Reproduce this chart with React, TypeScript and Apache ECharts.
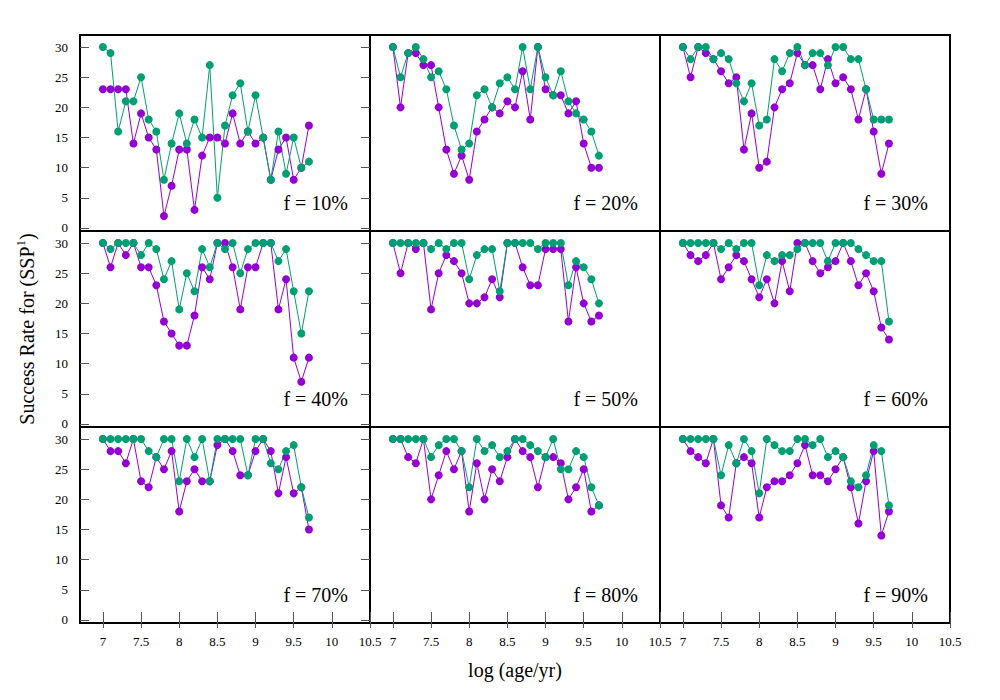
import React, { useEffect, useRef } from "react";
import * as echarts from "echarts";

const AGES = [7.0, 7.1, 7.2, 7.3, 7.4, 7.5, 7.6, 7.7, 7.8, 7.9, 8.0, 8.1, 8.2, 8.3, 8.4, 8.5, 8.6, 8.7, 8.8, 8.9, 9.0, 9.1, 9.2, 9.3, 9.4, 9.5, 9.6, 9.7];
const X_TICKS = [7, 7.5, 8, 8.5, 9, 9.5, 10, 10.5];
const Y_TICKS = [0, 5, 10, 15, 20, 25, 30];
const PANEL_LABELS = ["f = 10%", "f = 20%", "f = 30%", "f = 40%", "f = 50%", "f = 60%", "f = 70%", "f = 80%", "f = 90%"];

const GREEN_10 = [30, 29, 16, 21, 21, 25, 18, 16, 8, 14, 19, 14, 18, 15, 27, 5, 17, 22, 24, 16, 22, 15, 8, 16, 9, 15, 10, 11];
const PURPLE_10 = [23, 23, 23, 23, 14, 19, 15, 13, 2, 7, 13, 13, 3, 12, 15, 15, 14, 19, 14, 16, 14, 15, 8, 13, 15, 8, 10, 17];
const GREEN_20 = [30, 25, 29, 30, 28, 25, 26, 23, 17, 13, 14, 22, 23, 20, 24, 25, 23, 30, 23, 30, 25, 22, 26, 21, 19, 18, 16, 12];
const PURPLE_20 = [30, 20, 29, 29, 27, 27, 20, 13, 9, 12, 8, 16, 18, 20, 19, 21, 20, 26, 18, 30, 23, 22, 22, 19, 21, 14, 10, 10];
const GREEN_30 = [30, 28, 30, 30, 28, 29, 28, 24, 21, 24, 17, 18, 28, 26, 29, 30, 27, 29, 29, 27, 30, 30, 28, 28, 23, 18, 18, 18];
const PURPLE_30 = [30, 25, 30, 29, 28, 26, 24, 25, 13, 19, 10, 11, 20, 23, 24, 29, 27, 27, 23, 28, 24, 25, 23, 18, 23, 16, 9, 14];
const GREEN_40 = [30, 29, 30, 30, 30, 28, 30, 29, 24, 27, 19, 25, 22, 29, 26, 30, 29, 30, 25, 29, 30, 30, 30, 27, 29, 22, 15, 22];
const PURPLE_40 = [30, 26, 30, 28, 30, 26, 26, 23, 17, 15, 13, 13, 18, 26, 24, 30, 30, 26, 19, 26, 26, 30, 30, 19, 24, 11, 7, 11];
const GREEN_50 = [30, 30, 30, 30, 30, 29, 30, 29, 30, 30, 24, 28, 29, 29, 22, 30, 30, 30, 30, 29, 30, 30, 30, 23, 27, 26, 24, 20];
const PURPLE_50 = [30, 25, 30, 29, 30, 19, 25, 28, 27, 25, 20, 20, 21, 24, 21, 30, 30, 26, 23, 23, 29, 29, 29, 17, 26, 20, 17, 18];
const GREEN_60 = [30, 30, 30, 30, 30, 29, 30, 29, 30, 30, 23, 28, 27, 28, 28, 29, 30, 30, 30, 27, 30, 30, 30, 29, 28, 27, 27, 17];
const PURPLE_60 = [30, 28, 27, 28, 30, 24, 26, 28, 27, 24, 21, 24, 20, 27, 22, 30, 30, 27, 25, 26, 27, 30, 27, 23, 25, 22, 16, 14];
const GREEN_70 = [30, 30, 30, 30, 30, 30, 28, 27, 30, 30, 23, 30, 27, 30, 23, 30, 30, 30, 30, 24, 30, 30, 26, 25, 28, 29, 22, 17];
const PURPLE_70 = [30, 28, 28, 26, 30, 23, 22, 27, 25, 28, 18, 23, 25, 23, 23, 29, 30, 28, 24, 24, 28, 30, 28, 21, 27, 21, 22, 15];
const GREEN_80 = [30, 30, 30, 30, 30, 27, 29, 30, 30, 28, 22, 30, 28, 29, 27, 28, 30, 30, 29, 28, 27, 30, 25, 25, 28, 27, 22, 19];
const PURPLE_80 = [30, 30, 27, 26, 30, 20, 24, 28, 25, 28, 18, 26, 20, 25, 23, 27, 30, 28, 27, 22, 27, 27, 26, 20, 22, 25, 18, 19];
const GREEN_90 = [30, 30, 30, 30, 30, 24, 29, 26, 30, 28, 21, 30, 29, 28, 28, 30, 30, 29, 30, 27, 28, 27, 23, 22, 24, 29, 28, 19];
const PURPLE_90 = [30, 28, 27, 26, 30, 19, 17, 26, 27, 26, 17, 22, 23, 23, 24, 26, 29, 24, 24, 23, 25, 27, 22, 16, 23, 28, 14, 18];

const GREEN_SETS = [GREEN_10, GREEN_20, GREEN_30, GREEN_40, GREEN_50, GREEN_60, GREEN_70, GREEN_80, GREEN_90];
const PURPLE_SETS = [PURPLE_10, PURPLE_20, PURPLE_30, PURPLE_40, PURPLE_50, PURPLE_60, PURPLE_70, PURPLE_80, PURPLE_90];

const PURPLE = "#9400d3";
const GREEN = "#009e73";
const FONT = "'Liberation Serif', 'DejaVu Serif', serif";

const LEFTS = [80, 370, 660];
const TOPS = [35, 231, 427];
const W = 290;
const H = 196;

export default function App() {
  const ref = useRef<HTMLDivElement>(null);

  useEffect(() => {
    if (!ref.current) return;
    const chart = echarts.init(ref.current, undefined, { renderer: "svg" });

    const grid: any[] = [];
    const xAxis: any[] = [];
    const yAxis: any[] = [];
    const series: any[] = [];
    const graphic: any[] = [];

    for (let i = 0; i < 9; i++) {
      const row = Math.floor(i / 3);
      const col = i % 3;
      const bottomRow = row === 2;
      const leftCol = col === 0;
      grid.push({
        left: LEFTS[col],
        top: TOPS[row],
        width: W,
        height: H,
        show: true,
        borderColor: "#000",
        borderWidth: 2,
        backgroundColor: "transparent",
      });
      const xBase = {
        gridIndex: i,
        type: "value",
        min: 6.7,
        max: 10.5,
        axisLine: { show: false },
        splitLine: { show: false },
      };
      const yBase = {
        gridIndex: i,
        type: "value",
        min: -0.5,
        max: 32,
        axisLine: { show: false },
        splitLine: { show: false },
      };
      xAxis.push({
        ...xBase,
        position: "bottom",
        axisTick: {
          show: bottomRow,
          inside: true,
          length: 8,
          customValues: X_TICKS,
          lineStyle: { color: "#555", width: 1 },
        },
        axisLabel: {
          show: bottomRow,
          customValues: X_TICKS,
          fontFamily: FONT,
          fontSize: 13,
          color: "#000",
          margin: 12,
        },
      });
      xAxis.push({
        ...xBase,
        position: "top",
        axisTick: {
          show: bottomRow,
          inside: true,
          length: 8,
          customValues: X_TICKS,
          lineStyle: { color: "#555", width: 1 },
        },
        axisLabel: { show: false },
      });
      yAxis.push({
        ...yBase,
        position: "left",
        axisTick: {
          show: leftCol,
          inside: true,
          length: 9,
          customValues: Y_TICKS,
          lineStyle: { color: "#555", width: 1 },
        },
        axisLabel: {
          show: leftCol,
          customValues: Y_TICKS,
          fontFamily: FONT,
          fontSize: 13,
          color: "#000",
          margin: 12,
        },
      });
      yAxis.push({
        ...yBase,
        position: "right",
        axisTick: {
          show: leftCol,
          inside: true,
          length: 9,
          customValues: Y_TICKS,
          lineStyle: { color: "#555", width: 1 },
        },
        axisLabel: { show: false },
      });

      const mk = (vals: number[], color: string) => ({
        type: "line",
        xAxisIndex: i * 2,
        yAxisIndex: i * 2,
        data: AGES.map((a, k) => [a, vals[k]]),
        symbol: "circle",
        symbolSize: 8,
        showSymbol: true,
        lineStyle: { color, width: 1 },
        itemStyle: { color },
        emphasis: { disabled: true },
      });
      series.push(mk(PURPLE_SETS[i], PURPLE));
      series.push(mk(GREEN_SETS[i], GREEN));

      graphic.push({
        type: "text",
        x: LEFTS[col] + W - 22,
        y: TOPS[row] + 168,
        style: {
          text: PANEL_LABELS[i],
          font: "20px 'Liberation Serif', serif",
          fill: "#000",
          textAlign: "right",
          textVerticalAlign: "middle",
        },
      });
    }

    graphic.push({
      type: "text",
      x: 27,
      y: 329,
      rotation: Math.PI / 2,
      style: {
        text: "{n|Success Rate for (SSP}{s|1}{n|)}",
        textAlign: "center",
        textVerticalAlign: "middle",
        fill: "#000",
        rich: {
          n: { fontFamily: FONT, fontSize: 20, lineHeight: 26, fill: "#000" },
          s: { fontFamily: FONT, fontSize: 13, lineHeight: 26, verticalAlign: "top", fill: "#000" },
        },
      },
    });
    graphic.push({
      type: "text",
      x: 515,
      y: 670,
      style: {
        text: "log (age/yr)",
        font: "20px 'Liberation Serif', serif",
        fill: "#000",
        textAlign: "center",
        textVerticalAlign: "middle",
      },
    });

    chart.setOption({
      animation: false,
      backgroundColor: "#fff",
      grid,
      xAxis,
      yAxis,
      series,
      graphic,
    });

    return () => chart.dispose();
  }, []);

  return <div ref={ref} style={{ width: 1000, height: 700, position: "absolute", left: 0, top: 0 }} />;
}
